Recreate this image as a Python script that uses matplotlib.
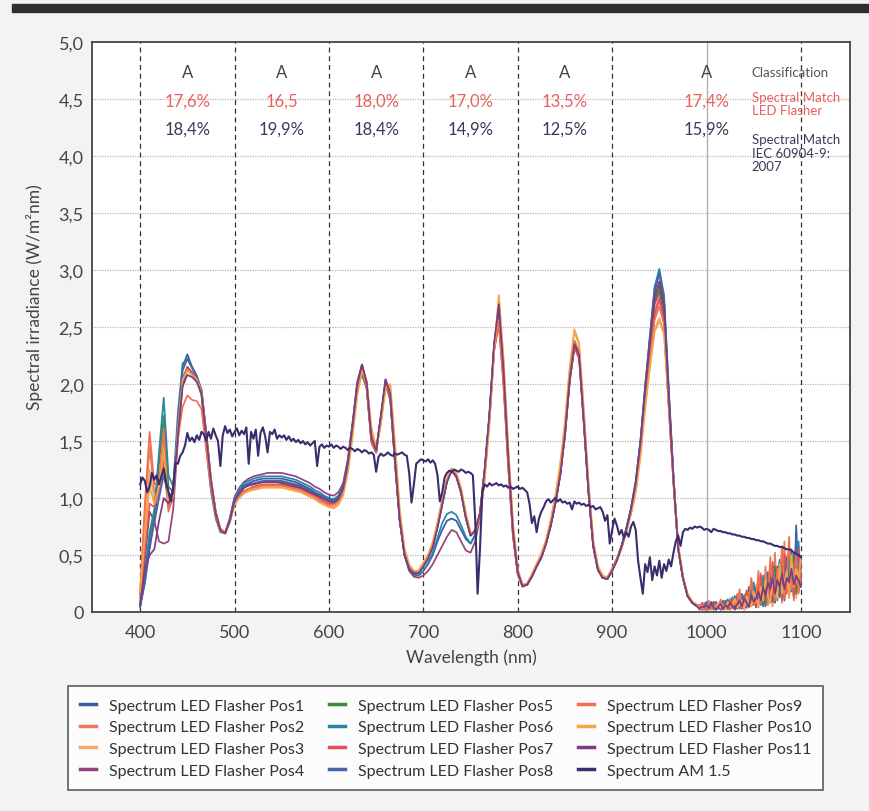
import matplotlib
matplotlib.use("Agg")
import matplotlib.pyplot as plt
from matplotlib.patches import Rectangle
from matplotlib.lines import Line2D
import numpy as np

# ---------------------------------------------------------------------------
# Data
# ---------------------------------------------------------------------------

WL_LED = np.arange(400, 995, 5)            # 400 ... 990 nm
WL_TAIL = np.arange(992.5, 1100.1, 2.5)    # noisy NIR tail, 992.5 ... 1100 nm
WL_AM = np.arange(400, 1100.1, 2.5)        # AM 1.5 reference

POS1 = [0.05, 0.25, 0.55, 0.80, 1.15, 1.35, 1.05, 1.00, 1.65, 2.15,
        2.26, 2.15, 2.07, 1.95, 1.55, 1.15, 0.88, 0.72, 0.69, 0.80,
        0.98, 1.06, 1.11, 1.13, 1.15, 1.16, 1.17, 1.17, 1.17, 1.17,
        1.17, 1.16, 1.15, 1.14, 1.12, 1.10, 1.08, 1.05, 1.03, 1.01,
        0.99, 0.98, 1.01, 1.10, 1.32, 1.64, 2.00, 2.17, 2.00, 1.52,
        1.40, 1.70, 2.02, 1.90, 1.34, 0.82, 0.50, 0.37, 0.32, 0.32,
        0.36, 0.42, 0.50, 0.62, 0.72, 0.80, 0.82, 0.80, 0.72, 0.64,
        0.60, 0.68, 0.85, 1.22, 1.70, 2.30, 2.55, 2.05, 1.32, 0.70,
        0.34, 0.23, 0.24, 0.31, 0.40, 0.48, 0.60, 0.76, 0.96, 1.20,
        1.55, 2.02, 2.32, 2.25, 1.66, 1.06, 0.58, 0.37, 0.30, 0.29,
        0.37, 0.46, 0.58, 0.72, 0.90, 1.12, 1.48, 1.95, 2.38, 2.80,
        2.98, 2.75, 1.92, 1.18, 0.56, 0.30, 0.14, 0.08, 0.05]
POS1_TAIL = [0.05, 0.03, 0.08, 0.02, 0.06, 0.04, 0.09, 0.03, 0.05, 0.02,
             0.07, 0.04, 0.10, 0.03, 0.06, 0.14, 0.04, 0.08, 0.03, 0.12,
             0.05, 0.22, 0.06, 0.15, 0.04, 0.28, 0.10, 0.19, 0.05, 0.35,
             0.12, 0.42, 0.08, 0.30, 0.15, 0.48, 0.10, 0.38, 0.20, 0.55,
             0.12, 0.76, 0.25, 0.40]

POS2 = [0.15, 0.85, 1.45, 1.05, 1.10, 1.45, 0.95, 1.05, 1.60, 2.02,
        2.12, 2.08, 2.02, 1.90, 1.50, 1.10, 0.85, 0.71, 0.69, 0.80,
        0.96, 1.03, 1.06, 1.08, 1.09, 1.10, 1.11, 1.11, 1.11, 1.11,
        1.11, 1.10, 1.09, 1.08, 1.07, 1.05, 1.03, 1.01, 0.99, 0.97,
        0.95, 0.94, 0.97, 1.06, 1.28, 1.60, 1.96, 2.13, 1.96, 1.48,
        1.40, 1.70, 2.00, 1.86, 1.30, 0.80, 0.52, 0.40, 0.35, 0.35,
        0.42, 0.49, 0.60, 0.77, 0.97, 1.16, 1.24, 1.18, 1.04, 0.82,
        0.67, 0.71, 0.86, 1.24, 1.70, 2.30, 2.58, 2.02, 1.28, 0.67,
        0.34, 0.23, 0.25, 0.32, 0.41, 0.49, 0.61, 0.77, 0.97, 1.21,
        1.56, 2.04, 2.34, 2.24, 1.68, 1.06, 0.58, 0.38, 0.31, 0.30,
        0.38, 0.47, 0.58, 0.72, 0.88, 1.10, 1.44, 1.88, 2.26, 2.62,
        2.78, 2.58, 1.82, 1.14, 0.55, 0.30, 0.14, 0.08, 0.06]
POS2_TAIL = [0.04, 0.07, 0.02, 0.05, 0.10, 0.03, 0.06, 0.02, 0.08, 0.04,
             0.03, 0.09, 0.02, 0.12, 0.05, 0.03, 0.16, 0.04, 0.10, 0.02,
             0.18, 0.06, 0.30, 0.08, 0.12, 0.04, 0.34, 0.07, 0.40, 0.10,
             0.22, 0.05, 0.52, 0.14, 0.36, 0.08, 0.62, 0.18, 0.30, 0.45,
             0.10, 0.58, 0.20, 0.42]

POS3 = [0.20, 0.75, 1.25, 0.98, 1.05, 1.50, 0.92, 1.02, 1.60, 2.05,
        2.15, 2.10, 2.05, 1.95, 1.58, 1.18, 0.88, 0.73, 0.70, 0.79,
        0.94, 1.01, 1.05, 1.07, 1.08, 1.09, 1.10, 1.10, 1.10, 1.10,
        1.10, 1.09, 1.08, 1.07, 1.06, 1.04, 1.02, 1.00, 0.97, 0.95,
        0.93, 0.92, 0.95, 1.03, 1.24, 1.56, 1.92, 2.12, 2.00, 1.58,
        1.42, 1.66, 1.98, 1.98, 1.45, 0.88, 0.55, 0.41, 0.36, 0.36,
        0.43, 0.50, 0.61, 0.78, 0.98, 1.17, 1.26, 1.21, 1.08, 0.86,
        0.69, 0.70, 0.82, 1.18, 1.66, 2.30, 2.76, 2.20, 1.42, 0.76,
        0.37, 0.24, 0.25, 0.33, 0.42, 0.51, 0.63, 0.80, 1.02, 1.28,
        1.64, 2.12, 2.46, 2.34, 1.76, 1.12, 0.62, 0.40, 0.32, 0.30,
        0.37, 0.45, 0.56, 0.70, 0.86, 1.06, 1.38, 1.80, 2.16, 2.48,
        2.58, 2.45, 1.80, 1.16, 0.58, 0.31, 0.15, 0.09, 0.06]
POS3_TAIL = [0.03, 0.05, 0.08, 0.03, 0.04, 0.07, 0.02, 0.06, 0.03, 0.09,
             0.04, 0.02, 0.07, 0.05, 0.11, 0.03, 0.06, 0.13, 0.04, 0.09,
             0.03, 0.17, 0.07, 0.11, 0.24, 0.05, 0.15, 0.28, 0.08, 0.20,
             0.38, 0.06, 0.26, 0.15, 0.44, 0.09, 0.32, 0.50, 0.14, 0.28,
             0.46, 0.12, 0.36, 0.22]

POS4 = [0.05, 0.45, 0.88, 0.80, 0.62, 0.60, 0.62, 0.90, 1.50, 2.00,
        2.15, 2.10, 2.05, 1.95, 1.58, 1.17, 0.88, 0.73, 0.70, 0.82,
        1.01, 1.09, 1.14, 1.17, 1.19, 1.20, 1.21, 1.22, 1.22, 1.22,
        1.22, 1.21, 1.20, 1.19, 1.17, 1.15, 1.13, 1.10, 1.08, 1.05,
        1.03, 1.02, 1.05, 1.13, 1.34, 1.66, 2.02, 2.17, 2.02, 1.54,
        1.42, 1.72, 2.04, 1.92, 1.35, 0.82, 0.50, 0.36, 0.31, 0.30,
        0.32, 0.36, 0.42, 0.50, 0.58, 0.66, 0.72, 0.70, 0.62, 0.54,
        0.52, 0.62, 0.82, 1.20, 1.70, 2.30, 2.60, 2.08, 1.34, 0.71,
        0.35, 0.23, 0.24, 0.31, 0.40, 0.48, 0.60, 0.76, 0.96, 1.20,
        1.55, 2.02, 2.34, 2.26, 1.68, 1.06, 0.58, 0.37, 0.30, 0.29,
        0.36, 0.45, 0.57, 0.72, 0.89, 1.12, 1.46, 1.92, 2.32, 2.70,
        2.82, 2.62, 1.86, 1.16, 0.56, 0.30, 0.14, 0.08, 0.05]
POS4_TAIL = [0.06, 0.03, 0.05, 0.08, 0.02, 0.05, 0.04, 0.07, 0.03, 0.06,
             0.08, 0.03, 0.05, 0.09, 0.04, 0.07, 0.03, 0.11, 0.06, 0.04,
             0.14, 0.07, 0.10, 0.18, 0.06, 0.13, 0.22, 0.08, 0.26, 0.15,
             0.30, 0.12, 0.24, 0.34, 0.18, 0.28, 0.14, 0.38, 0.22, 0.32,
             0.26, 0.40, 0.18, 0.30]

POS5 = [0.08, 0.35, 0.65, 0.85, 1.30, 1.72, 1.10, 1.05, 1.62, 2.05,
        2.14, 2.10, 2.04, 1.92, 1.53, 1.13, 0.86, 0.71, 0.69, 0.80,
        0.97, 1.04, 1.09, 1.11, 1.12, 1.13, 1.14, 1.14, 1.14, 1.14,
        1.14, 1.13, 1.12, 1.11, 1.10, 1.08, 1.06, 1.03, 1.01, 0.99,
        0.97, 0.96, 0.99, 1.08, 1.30, 1.62, 1.97, 2.08, 1.96, 1.50,
        1.40, 1.70, 2.00, 1.88, 1.32, 0.80, 0.51, 0.39, 0.35, 0.35,
        0.41, 0.48, 0.58, 0.75, 0.95, 1.15, 1.24, 1.19, 1.05, 0.83,
        0.68, 0.72, 0.87, 1.25, 1.72, 2.34, 2.62, 2.04, 1.30, 0.68,
        0.34, 0.23, 0.24, 0.32, 0.41, 0.49, 0.61, 0.78, 0.98, 1.22,
        1.58, 2.05, 2.36, 2.26, 1.68, 1.06, 0.58, 0.38, 0.30, 0.30,
        0.37, 0.46, 0.58, 0.73, 0.90, 1.12, 1.46, 1.92, 2.34, 2.72,
        2.86, 2.64, 1.86, 1.16, 0.56, 0.30, 0.14, 0.08, 0.06]
POS5_TAIL = [0.02, 0.06, 0.04, 0.03, 0.07, 0.05, 0.02, 0.08, 0.04, 0.03,
             0.06, 0.10, 0.03, 0.05, 0.08, 0.04, 0.12, 0.03, 0.07, 0.15,
             0.05, 0.09, 0.20, 0.06, 0.16, 0.08, 0.25, 0.12, 0.06, 0.30,
             0.14, 0.22, 0.40, 0.10, 0.26, 0.35, 0.12, 0.44, 0.20, 0.32,
             0.52, 0.16, 0.30, 0.24]

POS6 = [0.06, 0.30, 0.70, 0.90, 1.40, 1.88, 1.20, 1.10, 1.75, 2.18,
        2.22, 2.14, 2.06, 1.90, 1.45, 1.06, 0.82, 0.70, 0.69, 0.82,
        1.00, 1.08, 1.13, 1.15, 1.17, 1.18, 1.19, 1.19, 1.19, 1.19,
        1.19, 1.18, 1.17, 1.16, 1.14, 1.12, 1.10, 1.07, 1.05, 1.02,
        1.00, 0.99, 1.02, 1.11, 1.32, 1.63, 1.98, 2.14, 1.98, 1.50,
        1.40, 1.70, 2.00, 1.86, 1.30, 0.80, 0.50, 0.38, 0.33, 0.32,
        0.36, 0.43, 0.52, 0.65, 0.78, 0.86, 0.88, 0.85, 0.76, 0.66,
        0.60, 0.67, 0.84, 1.22, 1.70, 2.32, 2.64, 2.08, 1.32, 0.70,
        0.34, 0.23, 0.24, 0.32, 0.41, 0.49, 0.61, 0.77, 0.97, 1.22,
        1.58, 2.05, 2.37, 2.27, 1.68, 1.06, 0.58, 0.37, 0.30, 0.29,
        0.37, 0.46, 0.58, 0.73, 0.91, 1.14, 1.50, 1.98, 2.42, 2.85,
        3.01, 2.78, 1.96, 1.20, 0.57, 0.30, 0.14, 0.08, 0.05]
POS6_TAIL = [0.04, 0.02, 0.06, 0.09, 0.03, 0.05, 0.08, 0.02, 0.06, 0.04,
             0.10, 0.03, 0.06, 0.04, 0.13, 0.05, 0.03, 0.09, 0.16, 0.04,
             0.07, 0.12, 0.05, 0.26, 0.09, 0.14, 0.06, 0.32, 0.11, 0.18,
             0.08, 0.36, 0.15, 0.27, 0.46, 0.12, 0.34, 0.20, 0.56, 0.18,
             0.40, 0.30, 0.62, 0.28]

POS7 = [0.12, 0.55, 0.95, 0.92, 1.05, 1.30, 0.90, 1.00, 1.58, 2.02,
        2.14, 2.10, 2.04, 1.93, 1.54, 1.14, 0.86, 0.72, 0.69, 0.79,
        0.95, 1.02, 1.06, 1.08, 1.10, 1.11, 1.12, 1.12, 1.12, 1.12,
        1.12, 1.11, 1.10, 1.09, 1.08, 1.06, 1.04, 1.02, 1.00, 0.97,
        0.95, 0.95, 0.98, 1.07, 1.29, 1.61, 1.97, 2.14, 1.98, 1.50,
        1.40, 1.70, 2.00, 1.88, 1.32, 0.80, 0.52, 0.40, 0.35, 0.35,
        0.42, 0.49, 0.59, 0.76, 0.96, 1.15, 1.24, 1.19, 1.05, 0.83,
        0.68, 0.72, 0.87, 1.25, 1.72, 2.30, 2.52, 1.98, 1.26, 0.66,
        0.33, 0.22, 0.24, 0.31, 0.40, 0.48, 0.60, 0.76, 0.96, 1.20,
        1.55, 2.02, 2.32, 2.22, 1.65, 1.04, 0.57, 0.37, 0.30, 0.30,
        0.37, 0.46, 0.57, 0.71, 0.88, 1.09, 1.42, 1.86, 2.24, 2.60,
        2.74, 2.55, 1.80, 1.12, 0.54, 0.29, 0.14, 0.08, 0.06]
POS7_TAIL = [0.03, 0.08, 0.05, 0.02, 0.06, 0.09, 0.03, 0.05, 0.07, 0.02,
             0.05, 0.08, 0.04, 0.02, 0.10, 0.06, 0.14, 0.03, 0.05, 0.11,
             0.19, 0.04, 0.09, 0.15, 0.05, 0.20, 0.32, 0.07, 0.16, 0.26,
             0.09, 0.44, 0.12, 0.20, 0.33, 0.10, 0.50, 0.16, 0.28, 0.40,
             0.14, 0.34, 0.55, 0.26]

POS8 = [0.04, 0.28, 0.60, 0.78, 1.00, 1.20, 1.00, 1.02, 1.65, 2.12,
        2.22, 2.15, 2.07, 1.94, 1.53, 1.13, 0.86, 0.71, 0.69, 0.80,
        0.98, 1.05, 1.10, 1.12, 1.13, 1.14, 1.15, 1.15, 1.15, 1.15,
        1.15, 1.14, 1.13, 1.12, 1.11, 1.09, 1.07, 1.04, 1.02, 1.00,
        0.98, 0.97, 1.00, 1.09, 1.31, 1.63, 1.99, 2.16, 1.99, 1.51,
        1.41, 1.71, 2.03, 1.89, 1.33, 0.81, 0.51, 0.39, 0.34, 0.34,
        0.40, 0.47, 0.57, 0.74, 0.94, 1.14, 1.24, 1.19, 1.05, 0.83,
        0.67, 0.71, 0.86, 1.24, 1.72, 2.34, 2.66, 2.10, 1.34, 0.70,
        0.35, 0.23, 0.24, 0.31, 0.40, 0.48, 0.60, 0.76, 0.96, 1.21,
        1.57, 2.06, 2.38, 2.28, 1.70, 1.07, 0.58, 0.37, 0.30, 0.29,
        0.37, 0.46, 0.58, 0.73, 0.91, 1.15, 1.50, 1.98, 2.42, 2.84,
        2.97, 2.74, 1.92, 1.18, 0.56, 0.30, 0.14, 0.08, 0.05]
POS8_TAIL = [0.05, 0.04, 0.02, 0.07, 0.05, 0.03, 0.06, 0.09, 0.03, 0.05,
             0.02, 0.07, 0.11, 0.04, 0.06, 0.02, 0.09, 0.05, 0.13, 0.07,
             0.04, 0.16, 0.10, 0.06, 0.21, 0.09, 0.17, 0.05, 0.24, 0.13,
             0.34, 0.09, 0.20, 0.40, 0.13, 0.30, 0.22, 0.48, 0.15, 0.36,
             0.26, 0.64, 0.20, 0.45]

POS9 = [0.15, 0.95, 1.58, 1.12, 1.15, 1.60, 0.88, 1.05, 1.52, 1.80,
        1.90, 1.86, 1.85, 1.78, 1.42, 1.08, 0.84, 0.71, 0.69, 0.79,
        0.95, 1.02, 1.06, 1.08, 1.09, 1.10, 1.11, 1.11, 1.11, 1.11,
        1.11, 1.10, 1.09, 1.08, 1.07, 1.05, 1.03, 1.01, 0.98, 0.96,
        0.94, 0.94, 0.97, 1.06, 1.28, 1.60, 1.95, 2.12, 1.97, 1.50,
        1.41, 1.69, 1.99, 1.90, 1.36, 0.82, 0.53, 0.40, 0.36, 0.36,
        0.42, 0.49, 0.60, 0.77, 0.97, 1.16, 1.25, 1.20, 1.06, 0.84,
        0.68, 0.72, 0.86, 1.24, 1.70, 2.30, 2.56, 2.00, 1.28, 0.67,
        0.34, 0.23, 0.25, 0.32, 0.41, 0.49, 0.61, 0.78, 0.98, 1.23,
        1.58, 2.06, 2.38, 2.27, 1.70, 1.08, 0.60, 0.39, 0.31, 0.30,
        0.38, 0.46, 0.57, 0.71, 0.87, 1.08, 1.42, 1.85, 2.22, 2.56,
        2.68, 2.52, 1.80, 1.14, 0.56, 0.30, 0.15, 0.09, 0.06]
POS9_TAIL = [0.06, 0.02, 0.05, 0.04, 0.08, 0.02, 0.05, 0.07, 0.04, 0.11,
             0.03, 0.05, 0.08, 0.04, 0.03, 0.10, 0.05, 0.20, 0.04, 0.08,
             0.06, 0.13, 0.28, 0.06, 0.10, 0.36, 0.08, 0.12, 0.30, 0.06,
             0.48, 0.18, 0.10, 0.38, 0.24, 0.58, 0.12, 0.30, 0.66, 0.20,
             0.34, 0.50, 0.16, 0.36]

POS10 = [0.18, 0.65, 1.10, 0.95, 1.10, 1.40, 0.95, 1.02, 1.60, 2.04,
         2.12, 2.08, 2.04, 1.94, 1.56, 1.16, 0.88, 0.73, 0.70, 0.79,
         0.94, 1.00, 1.04, 1.06, 1.07, 1.08, 1.09, 1.09, 1.09, 1.09,
         1.09, 1.08, 1.07, 1.06, 1.05, 1.03, 1.01, 0.99, 0.96, 0.94,
         0.92, 0.91, 0.94, 1.02, 1.22, 1.54, 1.90, 2.12, 2.02, 1.62,
         1.44, 1.64, 1.96, 2.00, 1.48, 0.90, 0.56, 0.42, 0.36, 0.36,
         0.43, 0.50, 0.61, 0.78, 0.98, 1.17, 1.26, 1.22, 1.09, 0.87,
         0.70, 0.70, 0.82, 1.16, 1.64, 2.28, 2.78, 2.22, 1.44, 0.78,
         0.38, 0.24, 0.25, 0.33, 0.42, 0.51, 0.63, 0.81, 1.03, 1.30,
         1.66, 2.14, 2.48, 2.36, 1.78, 1.14, 0.63, 0.40, 0.32, 0.30,
         0.37, 0.45, 0.56, 0.70, 0.86, 1.05, 1.36, 1.78, 2.14, 2.46,
         2.55, 2.44, 1.80, 1.17, 0.59, 0.32, 0.16, 0.09, 0.06]
POS10_TAIL = [0.04, 0.06, 0.03, 0.05, 0.02, 0.07, 0.05, 0.03, 0.08, 0.04,
              0.06, 0.03, 0.09, 0.05, 0.07, 0.12, 0.04, 0.06, 0.10, 0.03,
              0.14, 0.08, 0.05, 0.18, 0.11, 0.07, 0.22, 0.10, 0.28, 0.14,
              0.08, 0.30, 0.20, 0.12, 0.42, 0.16, 0.26, 0.36, 0.12, 0.50,
              0.22, 0.38, 0.28, 0.48]

POS11 = [0.06, 0.38, 0.50, 0.55, 0.80, 1.00, 0.95, 1.05, 1.55, 1.98,
         2.08, 2.06, 2.02, 1.92, 1.55, 1.15, 0.87, 0.72, 0.69, 0.80,
         0.97, 1.04, 1.09, 1.11, 1.12, 1.13, 1.14, 1.14, 1.14, 1.14,
         1.13, 1.12, 1.11, 1.10, 1.09, 1.07, 1.05, 1.03, 1.01, 0.99,
         0.97, 0.96, 0.99, 1.08, 1.30, 1.63, 1.99, 2.17, 2.01, 1.53,
         1.42, 1.72, 2.04, 1.91, 1.34, 0.81, 0.51, 0.38, 0.34, 0.34,
         0.40, 0.47, 0.57, 0.74, 0.94, 1.14, 1.24, 1.19, 1.05, 0.83,
         0.67, 0.71, 0.86, 1.25, 1.74, 2.36, 2.70, 2.12, 1.36, 0.71,
         0.35, 0.23, 0.24, 0.31, 0.40, 0.48, 0.60, 0.76, 0.96, 1.20,
         1.56, 2.04, 2.35, 2.26, 1.68, 1.06, 0.58, 0.37, 0.30, 0.29,
         0.36, 0.45, 0.57, 0.72, 0.90, 1.13, 1.48, 1.94, 2.36, 2.76,
         2.90, 2.68, 1.88, 1.16, 0.56, 0.30, 0.14, 0.08, 0.05]
POS11_TAIL = [0.03, 0.05, 0.04, 0.06, 0.03, 0.08, 0.04, 0.02, 0.05, 0.07,
              0.03, 0.06, 0.04, 0.08, 0.05, 0.03, 0.07, 0.10, 0.05, 0.12,
              0.08, 0.05, 0.15, 0.09, 0.12, 0.18, 0.10, 0.22, 0.14, 0.26,
              0.20, 0.30, 0.16, 0.28, 0.22, 0.34, 0.20, 0.30, 0.26, 0.38,
              0.24, 0.32, 0.28, 0.22]

AM15 = [1.12, 1.18, 1.15, 1.05, 1.10, 1.22, 1.16, 1.20, 1.12, 1.19,
        1.26, 1.14, 1.05, 0.97, 1.10, 1.31, 1.30, 1.37, 1.40, 1.46,
        1.57, 1.50, 1.53, 1.49, 1.55, 1.51, 1.58, 1.56, 1.50, 1.58,
        1.52, 1.61, 1.55, 1.50, 1.28, 1.55, 1.63, 1.57, 1.60, 1.54,
        1.58, 1.61, 1.55, 1.59, 1.56, 1.62, 1.30, 1.58, 1.52, 1.60,
        1.37, 1.57, 1.62, 1.54, 1.40, 1.58, 1.56, 1.60, 1.52, 1.55,
        1.53, 1.55, 1.51, 1.54, 1.50, 1.52, 1.49, 1.51, 1.48, 1.50,
        1.47, 1.49, 1.46, 1.48, 1.50, 1.28, 1.45, 1.47, 1.44, 1.46,
        1.45, 1.47, 1.44, 1.46, 1.45, 1.43, 1.45, 1.44, 1.42, 1.44,
        1.43, 1.41, 1.43, 1.42, 1.40, 1.42, 1.41, 1.39, 1.40, 1.38,
        1.23, 1.36, 1.39, 1.37, 1.38, 1.40, 1.38, 1.37, 1.39, 1.38,
        1.39, 1.40, 1.38, 1.37, 1.22, 0.96, 1.12, 1.30, 1.32, 1.34,
        1.33, 1.32, 1.34, 1.31, 1.33, 1.30, 1.20, 0.97, 1.05, 1.18,
        1.22, 1.24, 1.23, 1.25, 1.24, 1.23, 1.25, 1.24, 1.22, 1.23,
        1.22, 1.20, 0.80, 0.16, 0.55, 1.05, 1.12, 1.10, 1.13, 1.11,
        1.12, 1.13, 1.11, 1.12, 1.10, 1.11, 1.09, 1.10, 1.08, 1.09,
        1.10, 1.08, 1.09, 1.07, 1.05, 0.95, 0.78, 0.84, 0.70, 0.82,
        0.88, 0.92, 0.97, 0.99, 0.96, 0.98, 1.00, 0.97, 0.99, 0.96,
        0.97, 0.95, 0.96, 0.90, 0.97, 0.95, 0.96, 0.94, 0.95, 0.93,
        0.94, 0.92, 0.93, 0.90, 0.91, 0.92, 0.88, 0.80, 0.85, 0.60,
        0.72, 0.82, 0.76, 0.68, 0.72, 0.65, 0.70, 0.66, 0.75, 0.79,
        0.72, 0.45, 0.30, 0.16, 0.42, 0.35, 0.48, 0.28, 0.40, 0.32,
        0.45, 0.30, 0.42, 0.36, 0.46, 0.40, 0.52, 0.62, 0.67, 0.58,
        0.70, 0.73, 0.72, 0.74, 0.73, 0.75, 0.74, 0.75, 0.74, 0.72,
        0.73, 0.72, 0.70, 0.73, 0.72, 0.71, 0.71, 0.70, 0.70, 0.69,
        0.69, 0.68, 0.68, 0.67, 0.67, 0.66, 0.66, 0.65, 0.65, 0.64,
        0.64, 0.63, 0.63, 0.62, 0.62, 0.61, 0.60, 0.60, 0.59, 0.58,
        0.58, 0.57, 0.57, 0.56, 0.55, 0.55, 0.54, 0.52, 0.51, 0.50,
        0.48]

LED_LABELS = [f"Spectrum LED Flasher Pos{i}" for i in range(1, 12)]
LED_VALUES = [POS1, POS2, POS3, POS4, POS5, POS6, POS7, POS8, POS9, POS10, POS11]
LED_TAILS = [POS1_TAIL, POS2_TAIL, POS3_TAIL, POS4_TAIL, POS5_TAIL, POS6_TAIL,
             POS7_TAIL, POS8_TAIL, POS9_TAIL, POS10_TAIL, POS11_TAIL]
AM_LABEL = "Spectrum AM 1.5"

# classification table at the top of the plot
TABLE_X = [450, 550, 650, 750, 850, 1000]
CLASSES = ["A", "A", "A", "A", "A", "A"]
MATCH_LED = ["17,6%", "16,5", "18,0%", "17,0%", "13,5%", "17,4%"]
MATCH_IEC = ["18,4%", "19,9%", "18,4%", "14,9%", "12,5%", "15,9%"]

X_TICKS = [400, 500, 600, 700, 800, 900, 1000, 1100]
Y_TICKS = [0, 0.5, 1.0, 1.5, 2.0, 2.5, 3.0, 3.5, 4.0, 4.5, 5.0]
Y_TICK_LABELS = ["0", "0,5", "1,0", "1,5", "2,0", "2,5", "3,0", "3,5", "4,0", "4,5", "5,0"]

# ---------------------------------------------------------------------------
# Style
# ---------------------------------------------------------------------------

LED_COLORS = ["#3b5ba5", "#ee7762", "#f7a866", "#93437f", "#3f8a3c", "#2a86a6",
              "#e4505b", "#4a62a6", "#f2704f", "#f5a448", "#7b3d80"]
AM_COLOR = "#3a2c6e"
RED_TXT = "#e8605e"
NAVY_TXT = "#3c3858"
GREY_TXT = "#444444"

plt.rcParams.update({
    "font.family": ["Lato", "DejaVu Sans"],
    "font.size": 12,
    "text.color": GREY_TXT,
    "axes.labelcolor": GREY_TXT,
    "xtick.color": GREY_TXT,
    "ytick.color": GREY_TXT,
})

W, H = 869, 812
fig = plt.figure(figsize=(W / 100, H / 100), dpi=100, facecolor="#f3f3f3")

# dark band across the top of the page
fig.patches.append(Rectangle((12 / W, 1 - 13 / H), 1, 8 / H,
                             transform=fig.transFigure, color="#2e2e2e", zorder=0))

ax = fig.add_axes([92 / W, 1 - 613 / H, (850 - 92) / W, (613 - 43) / H])
ax.set_facecolor("white")
ax.set_xlim(349, 1152)
ax.set_ylim(0, 5)

for y in Y_TICKS[1:-1]:
    ax.axhline(y, color="#b8b8b8", lw=0.9, ls=(0, (1, 1)), zorder=1)
for x in [400, 500, 600, 700, 800, 900, 1100]:
    ax.axvline(x, color="#333333", lw=0.9, ls=(0, (4, 3)), zorder=1)
ax.axvline(1000, color="#b0b0b0", lw=1.0, zorder=1)

wl_led = np.concatenate([WL_LED, WL_TAIL])
for vals, tail, color in zip(LED_VALUES, LED_TAILS, LED_COLORS):
    ax.plot(wl_led, np.concatenate([vals, tail]), color=color, lw=1.25, zorder=3)
ax.plot(WL_AM, AM15, color=AM_COLOR, lw=1.5, zorder=4)

# classification / spectral match table
for x, c, m1, m2 in zip(TABLE_X, CLASSES, MATCH_LED, MATCH_IEC):
    ax.text(x, 4.74, c, ha="center", va="center", fontsize=12, color=GREY_TXT)
    ax.text(x, 4.49, m1, ha="center", va="center", fontsize=12, color=RED_TXT)
    ax.text(x, 4.24, m2, ha="center", va="center", fontsize=12, color=NAVY_TXT)
ax.text(1048, 4.74, "Classification", ha="left", va="center", fontsize=9.5, color="#555555")
ax.text(1048, 4.46, "Spectral Match\nLED Flasher", ha="left", va="center",
        fontsize=9.5, color=RED_TXT, linespacing=1.15)
ax.text(1048, 4.03, "Spectral Match\nIEC 60904-9:\n2007", ha="left", va="center",
        fontsize=9.5, color=NAVY_TXT, linespacing=1.15)

ax.set_xticks(X_TICKS)
ax.set_yticks(Y_TICKS)
ax.set_yticklabels(Y_TICK_LABELS)
ax.tick_params(axis="both", length=0, labelsize=13)
ax.tick_params(axis="x", pad=9)
ax.tick_params(axis="y", pad=6)
for s in ax.spines.values():
    s.set_color("#444444")
    s.set_linewidth(1.3)

ax.set_xlabel("Wavelength (nm)", fontsize=12.5, labelpad=6)
ax.set_ylabel("Spectral irradiance (W/m²nm)", fontsize=12.5)
ax.yaxis.set_label_coords(-0.065, 0.555)

handles = [Line2D([], [], color=c, lw=2.5) for c in LED_COLORS]
handles.append(Line2D([], [], color=AM_COLOR, lw=2.5))
leg = fig.legend(handles, LED_LABELS + [AM_LABEL], ncol=3, loc="center",
                 bbox_to_anchor=(68 / W, 1 - 790 / H, 755 / W, 102 / H),
                 mode="expand", fontsize=11.5, frameon=True, fancybox=False,
                 handlelength=1.0, handletextpad=0.8, labelspacing=0.47,
                 borderpad=0.75, borderaxespad=0)
leg.get_frame().set_edgecolor("#333333")
leg.get_frame().set_linewidth(1.2)
leg.get_frame().set_facecolor("white")
for t in leg.get_texts():
    t.set_color("#333333")

fig.savefig("out.png", dpi=100, facecolor=fig.get_facecolor())
